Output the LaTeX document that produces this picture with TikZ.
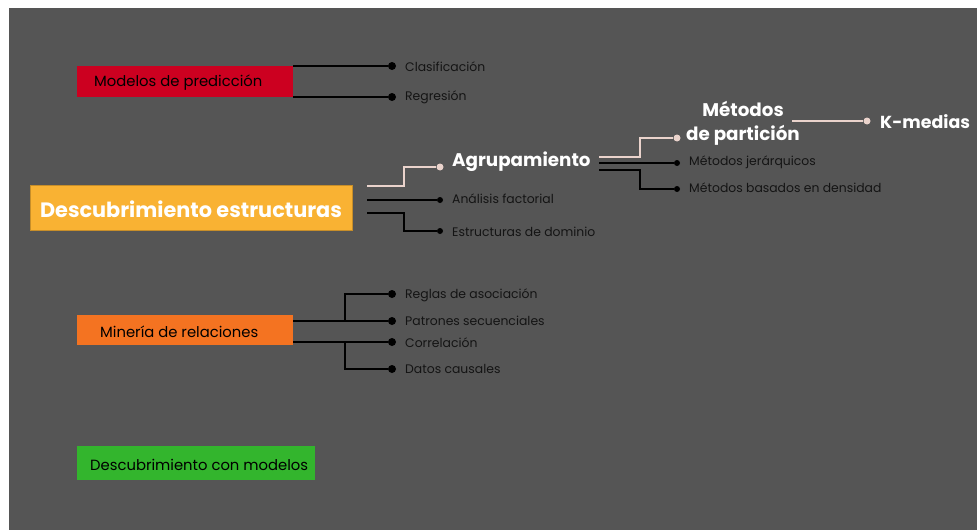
\documentclass[tikz,border=0pt]{standalone}
\usepackage{fontspec}
\setmainfont{Poppins}
\begin{document}
\begin{tikzpicture}[x=1pt,y=-1pt,
  bgfill/.style={fill=bggray,draw=none},
  boxtext/.style={anchor=west,inner sep=0pt,text=black,font=\fontsize{14.8}{16}\selectfont},
  blk/.style={draw=black,line width=1.8pt},
  pale/.style={draw=palepink,line width=1.8pt},
  bdot/.style={circle,fill=black,inner sep=0pt,minimum size=8pt},
  sdot/.style={circle,fill=black,inner sep=0pt,minimum size=6pt},
  pdot/.style={circle,fill=palepink,inner sep=0pt,minimum size=7pt},
  leaf/.style={anchor=west,inner sep=0pt,text=leafgray,font=\fontsize{12.4}{14}\selectfont},
  big/.style={anchor=west,inner sep=0pt,text=white,font=\bfseries\fontsize{18.3}{24}\selectfont,align=center}
]
\definecolor{bggray}{HTML}{555555}
\definecolor{palepink}{HTML}{EAD3CC}
\definecolor{leafgray}{HTML}{141414}
\definecolor{predred}{HTML}{CC0020}
\definecolor{structorange}{HTML}{F9B233}
\definecolor{relorange}{HTML}{F47321}
\definecolor{modgreen}{HTML}{33B52D}

\useasboundingbox (0,0) rectangle (977,530);
\fill[white] (0,0) rectangle (977,530);
\path[bgfill] (9,8) rectangle (977,530);

% --- Modelos de predicción ---
\fill[predred] (77,66) rectangle (293,97);
\node[boxtext] (pred) at (94,83) {Modelos de predicción};
\coordinate (predA) at (293,66);
\coordinate (predB) at (293,97);
\node[bdot] (dClas) at (392,66) {};
\node[bdot] (dReg) at (392,97) {};
\draw[blk] (predA) -- (dClas);
\draw[blk] (predB) -- (dReg);
\node[leaf] (clas) at (405,67) {Clasificación};
\node[leaf] (reg) at (405,97) {Regresión};

% --- Descubrimiento estructuras ---
\fill[structorange] (30,185) rectangle (352,230);
\draw[draw=structorange!80!black,line width=0.6pt] (30,185) rectangle (352,230);
\node[anchor=center,inner sep=0pt,text=white,font=\bfseries\fontsize{20.8}{24}\selectfont] (estr) at (191,209) {Descubrimiento estructuras};
\coordinate (eA) at (367,186);
\coordinate (eB) at (367,200);
\coordinate (eC) at (367,213);
\node[pdot] (dAgr) at (440,167) {};
\node[sdot] (dAna) at (440,200) {};
\node[sdot] (dDom) at (440,231) {};
\draw[pale] (eA) -| (404,167) -- (dAgr);
\draw[blk] (eB) -- (dAna);
\draw[blk] (eC) -| (404,231) -- (dDom);
\node[big] (agr) at (452,162) {Agrupamiento};
\node[leaf] (ana) at (452,199) {Análisis factorial};
\node[leaf] (dom) at (452,232) {Estructuras de dominio};

% --- Agrupamiento ---
\coordinate (gA) at (599,157);
\coordinate (gB) at (599,163);
\coordinate (gC) at (599,170);
\node[pdot] (dPar) at (677,138) {};
\node[sdot] (dJer) at (677,163) {};
\node[sdot] (dDen) at (677,189) {};
\draw[pale] (gA) -| (640,138) -- (dPar);
\draw[blk,line width=1.6pt] (gB) -- (dJer);
\draw[blk,line width=1.6pt] (gC) -| (640,189) -- (dDen);
\node[big,anchor=center] (par) at (743,123) {Métodos\\de partición};
\node[leaf] (jer) at (689,162) {Métodos jerárquicos};
\node[leaf] (den) at (689,188) {Métodos basados en densidad};

% --- Métodos de partición ---
\coordinate (pA) at (792,121);
\node[pdot] (dKm) at (867,121) {};
\draw[pale] (pA) -- (dKm);
\node[big,font=\bfseries\fontsize{17.4}{20}\selectfont] (km) at (880,122) {K-medias};

% --- Minería de relaciones ---
\fill[relorange] (77,315) rectangle (293,345);
\node[boxtext] (rel) at (100,331.5) {Minería de relaciones};
\coordinate (rA) at (293,321);
\coordinate (rB) at (293,342);
\node[bdot] (dReg2) at (392,294) {};
\node[bdot] (dPat) at (392,321) {};
\node[bdot] (dCor) at (392,342) {};
\node[bdot] (dCau) at (392,369) {};
\draw[blk] (rA) -- (dPat);
\draw[blk] (345,321) |- (dReg2);
\draw[blk] (rB) -- (dCor);
\draw[blk] (345,342) |- (dCau);
\node[leaf] (asoc) at (405,295) {Reglas de asociación};
\node[leaf] (pat) at (405,321) {Patrones secuenciales};
\node[leaf] (cor) at (405,343) {Correlación};
\node[leaf] (cau) at (405,369) {Datos causales};

% --- Descubrimiento con modelos ---
\fill[modgreen] (77,446) rectangle (315,480);
\node[boxtext] (mod) at (90,464.5) {Descubrimiento con modelos};
\end{tikzpicture}
\end{document}
